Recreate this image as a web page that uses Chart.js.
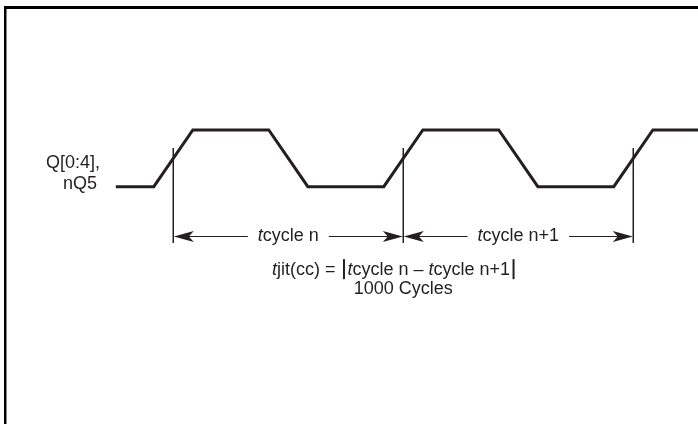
<!DOCTYPE html>
<html>
<head>
<meta charset="utf-8">
<script src="https://cdn.jsdelivr.net/npm/chart.js@4.4.1/dist/chart.umd.min.js"></script>
<style>
  html, body { margin: 0; padding: 0; background: #fff; }
  #timing_chart { display: block; }
</style>
</head>
<body>
<canvas id="timing_chart" width="698" height="424"></canvas>
<script>
// setup block - time in tenths of a clock cycle (one cycle = 10), level 0 = low, 1 = high
const waveTime = [-2.5, -0.85, 0.85, 4.15, 5.85, 9.15, 10.85, 14.15, 15.85, 19.15, 20.85, 23];
const waveLevel = [0, 0, 1, 1, 0, 0, 1, 1, 0, 0, 1, 1];
const cycleEdges = [0, 10, 20];          // rising-edge crossings used for measurement
const cycleLabels = ['cycle n', 'cycle n+1'];  // each drawn with an italic "t" in front
const signalLabel = ['Q[0:4],', 'nQ5'];
const jitterNote = '1000 Cycles';

const INK = '#231f20';
const FONT = '"Liberation Sans", Arial, Helvetica, sans-serif';

// draws the frame, the cycle arrows and all the text, using the chart's own scales
const cycleAnnotations = {
    id: 'cycleAnnotations',
    beforeDraw(chart) {
        const c = chart.ctx;
        c.save();
        c.fillStyle = '#fff';
        c.fillRect(0, 0, chart.width, chart.height);
        c.fillStyle = '#000';
        c.fillRect(4, 6, chart.width - 4, 3);   // top rule
        c.fillRect(4, 6, 2.5, chart.height - 6); // left rule
        c.restore();
    },
    afterDatasetsDraw(chart, args, opts) {
        const c = chart.ctx;
        const xs = chart.scales.x, ys = chart.scales.y;
        const px = v => xs.getPixelForValue(v);
        const py = v => ys.getPixelForValue(v);
        const fontR = `${opts.size}px ${FONT}`;
        const fontI = `italic ${opts.size}px ${FONT}`;

        // text made of parts: [string, italic?] or 'bar' for the big abs bars
        const partWidth = p => {
            if (p === 'bar') return 7;
            c.font = p[1] ? fontI : fontR;
            return c.measureText(p[0]).width;
        };
        const drawParts = (parts, x, y) => {
            parts.forEach(p => {
                if (p === 'bar') {
                    c.fillRect(x + 2.5, y - 16, 2, 20);
                    x += 7;
                    return;
                }
                c.font = p[1] ? fontI : fontR;
                c.fillText(p[0], x, y);
                x += c.measureText(p[0]).width;
            });
        };

        c.save();
        c.fillStyle = INK;
        c.strokeStyle = INK;
        c.textBaseline = 'alphabetic';

        // signal name
        c.font = fontR;
        c.textAlign = 'right';
        c.fillText(signalLabel[0], px(opts.labelX), py(opts.labelY[0]));
        c.fillText(signalLabel[1], px(opts.labelX) - 3, py(opts.labelY[1]));
        c.textAlign = 'left';

        // tcycle arrows
        const ay = Math.round(py(opts.arrowY)) + 0.5;
        const head = (tipX, dir) => {
            c.beginPath();
            c.moveTo(tipX, ay);
            c.lineTo(tipX + dir * 20, ay - 5.5);
            c.lineTo(tipX + dir * 15, ay);
            c.lineTo(tipX + dir * 20, ay + 5.5);
            c.closePath();
            c.fill();
        };
        cycleLabels.forEach((lbl, i) => {
            const x0 = px(cycleEdges[i]), x1 = px(cycleEdges[i + 1]);
            const parts = [['t', true], [lbl, false]];
            const w = parts.reduce((s, p) => s + partWidth(p), 0);
            const tx = (x0 + x1) / 2 - w / 2;
            c.lineWidth = 1;
            c.beginPath();
            c.moveTo(x0 + 2, ay);
            c.lineTo(tx - opts.gap, ay);
            c.moveTo(tx + w + opts.gap, ay);
            c.lineTo(x1 - 2, ay);
            c.stroke();
            head(x0 + 0.5, 1);
            head(x1 - 0.5, -1);
            drawParts(parts, tx, py(opts.labelBaseY));
        });

        // jitter formula
        const formula = [['t', true], ['jit(cc) = ', false], 'bar', ['t', true], ['cycle n \u2013 ', false],
                         ['t', true], ['cycle n+1', false], 'bar'];
        drawParts(formula, px(opts.formulaX), py(opts.formulaY));

        c.font = fontR;
        c.textAlign = 'center';
        c.fillText(jitterNote, px(cycleEdges[1]), py(opts.noteY));
        c.restore();
    }
};

// config block
const data = {
    datasets: [{
        label: 'Q[0:4], nQ5',
        data: waveTime.map((t, i) => ({ x: t, y: waveLevel[i] })),
        borderColor: INK,
        borderWidth: 3,
        borderJoinStyle: 'miter',
        pointRadius: 0,
        tension: 0
    },
    ...cycleEdges.map(t => ({
        label: 'edge ' + t,
        data: [{ x: t, y: 0.683 }, { x: t, y: -0.993 }],
        borderColor: INK,
        borderWidth: 1,
        pointRadius: 0
    }))]
};

const config = {
    type: 'line',
    data,
    options: {
        responsive: false,
        animation: false,
        devicePixelRatio: 1,
        layout: { padding: 0 },
        scales: {
            x: { type: 'linear', display: false, min: -7.535, max: 22.813 },
            y: { type: 'linear', display: false, min: -4.185, max: 3.293 }
        },
        plugins: {
            legend: { display: false },
            tooltip: { enabled: false },
            cycleAnnotations: {
                size: 18,
                gap: 10,
                labelX: -3.19,
                labelY: [0.33, -0.04],
                arrowY: -0.861,
                labelBaseY: -0.95,
                formulaX: 4.29,
                formulaY: -1.56,
                noteY: -1.89
            }
        }
    },
    plugins: [cycleAnnotations]
};

// render init block
const timing_chart = new Chart(document.getElementById('timing_chart'), config);
</script>
</body>
</html>
